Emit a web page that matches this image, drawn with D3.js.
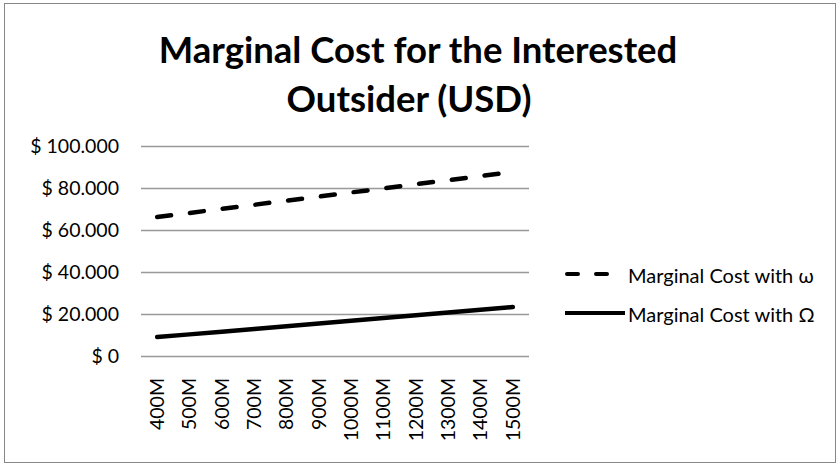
<!DOCTYPE html>
<meta charset="utf-8">
<head>
    <style>
        body { margin: 0; background: #fff; }
        text { font-family: Lato, "Open Sans", sans-serif; fill: #000; }
        .grid line { stroke: #999; stroke-width: 1.4px; }
    </style>
</head>
<body>
    <svg width="840" height="466"></svg>
</body>
<script src="https://d3js.org/d3.v7.min.js"></script>
<script>

    // data
    var categories = ["400M", "500M", "600M", "700M", "800M", "900M", "1000M", "1100M", "1200M", "1300M", "1400M", "1500M"];
    var costOmegaSmall = [66200, 68100, 70100, 72000, 74000, 75900, 77900, 79800, 81800, 83700, 85700, 87600];
    var costOmegaBig = [9000, 10300, 11600, 12900, 14200, 15500, 16800, 18100, 19400, 20700, 22000, 23300];
    var yTicks = [0, 20000, 40000, 60000, 80000, 100000];
    var titleLines = ["Marginal Cost for the Interested", "Outsider (USD)"];
    var seriesNames = ["Marginal Cost with \u03c9", "Marginal Cost with \u03a9"];

    var svg = d3.select("svg"),
        width = +svg.attr("width"),
        height = +svg.attr("height");

    var plot = { left: 141, right: 529, top: 146, bottom: 356 };

    // outer chart border
    svg.append("rect")
        .attr("x", 4.5).attr("y", 3.5)
        .attr("width", 831).attr("height", 459)
        .attr("fill", "#fff")
        .attr("stroke", "#878787")
        .attr("stroke-width", 1);

    // title
    svg.append("text")
        .attr("x", 418).attr("y", 63)
        .attr("text-anchor", "middle")
        .style("font-weight", "bold")
        .style("font-size", "36.5px")
        .text(titleLines[0]);
    svg.append("text")
        .attr("x", 409).attr("y", 112)
        .attr("text-anchor", "middle")
        .style("font-weight", "bold")
        .style("font-size", "36.5px")
        .text(titleLines[1]);

    var x = d3.scaleBand()
        .domain(categories)
        .range([plot.left, plot.right]);

    var y = d3.scaleLinear()
        .domain([0, 100000])
        .range([plot.bottom, plot.top]);

    var locale = d3.formatLocale({ decimal: ",", thousands: ".", grouping: [3], currency: ["$ ", ""] });
    var fmt = locale.format(",.0f");

    // gridlines
    svg.append("g")
        .attr("class", "grid")
        .selectAll("line")
        .data(yTicks)
        .enter().append("line")
        .attr("x1", plot.left)
        .attr("x2", plot.right)
        .attr("y1", function (d) { return Math.round(y(d)) + 0.5; })
        .attr("y2", function (d) { return Math.round(y(d)) + 0.5; });

    // y labels
    svg.append("g")
        .selectAll("text")
        .data(yTicks)
        .enter().append("text")
        .attr("x", 119)
        .attr("y", function (d) { return y(d); })
        .attr("dy", "0.35em")
        .attr("text-anchor", "end")
        .style("font-size", "19.5px")
        .text(function (d) { return "$ " + fmt(d); });

    // x labels, rotated
    svg.append("g")
        .selectAll("text")
        .data(categories)
        .enter().append("text")
        .attr("transform", function (d) {
            return "translate(" + (x(d) + x.bandwidth() / 2) + "," + 378 + ") rotate(-90)";
        })
        .attr("dy", "0.35em")
        .attr("text-anchor", "end")
        .style("font-size", "19.5px")
        .text(function (d) { return d; });

    var line = d3.line()
        .x(function (d, i) { return x(categories[i]) + x.bandwidth() / 2; })
        .y(function (d) { return y(d); });

    svg.append("path")
        .datum(costOmegaSmall)
        .attr("d", line)
        .attr("fill", "none")
        .attr("stroke", "#000")
        .attr("stroke-width", 4.5)
        .attr("stroke-linecap", "round")
        .attr("stroke-dasharray", "14,19");

    svg.append("path")
        .datum(costOmegaBig)
        .attr("d", line)
        .attr("fill", "none")
        .attr("stroke", "#000")
        .attr("stroke-width", 4.5)
        .attr("stroke-linecap", "round");

    // legend
    var legend = svg.append("g")
        .selectAll("g")
        .data(seriesNames)
        .enter().append("g")
        .attr("transform", function (d, i) { return "translate(0," + (i === 0 ? 274 : 313) + ")"; });

    legend.append("line")
        .attr("x1", function (d, i) { return i === 0 ? 567 : 565; })
        .attr("x2", function (d, i) { return i === 0 ? 607 : 625; })
        .attr("stroke", "#000")
        .attr("stroke-width", 4)
        .attr("stroke-linecap", function (d, i) { return i === 0 ? "round" : "butt"; })
        .attr("stroke-dasharray", function (d, i) { return i === 0 ? "11,18" : null; });

    legend.append("text")
        .attr("x", 628)
        .attr("y", 2)
        .attr("dy", "0.35em")
        .style("font-size", "20px")
        .text(function (d) { return d; });

</script>
